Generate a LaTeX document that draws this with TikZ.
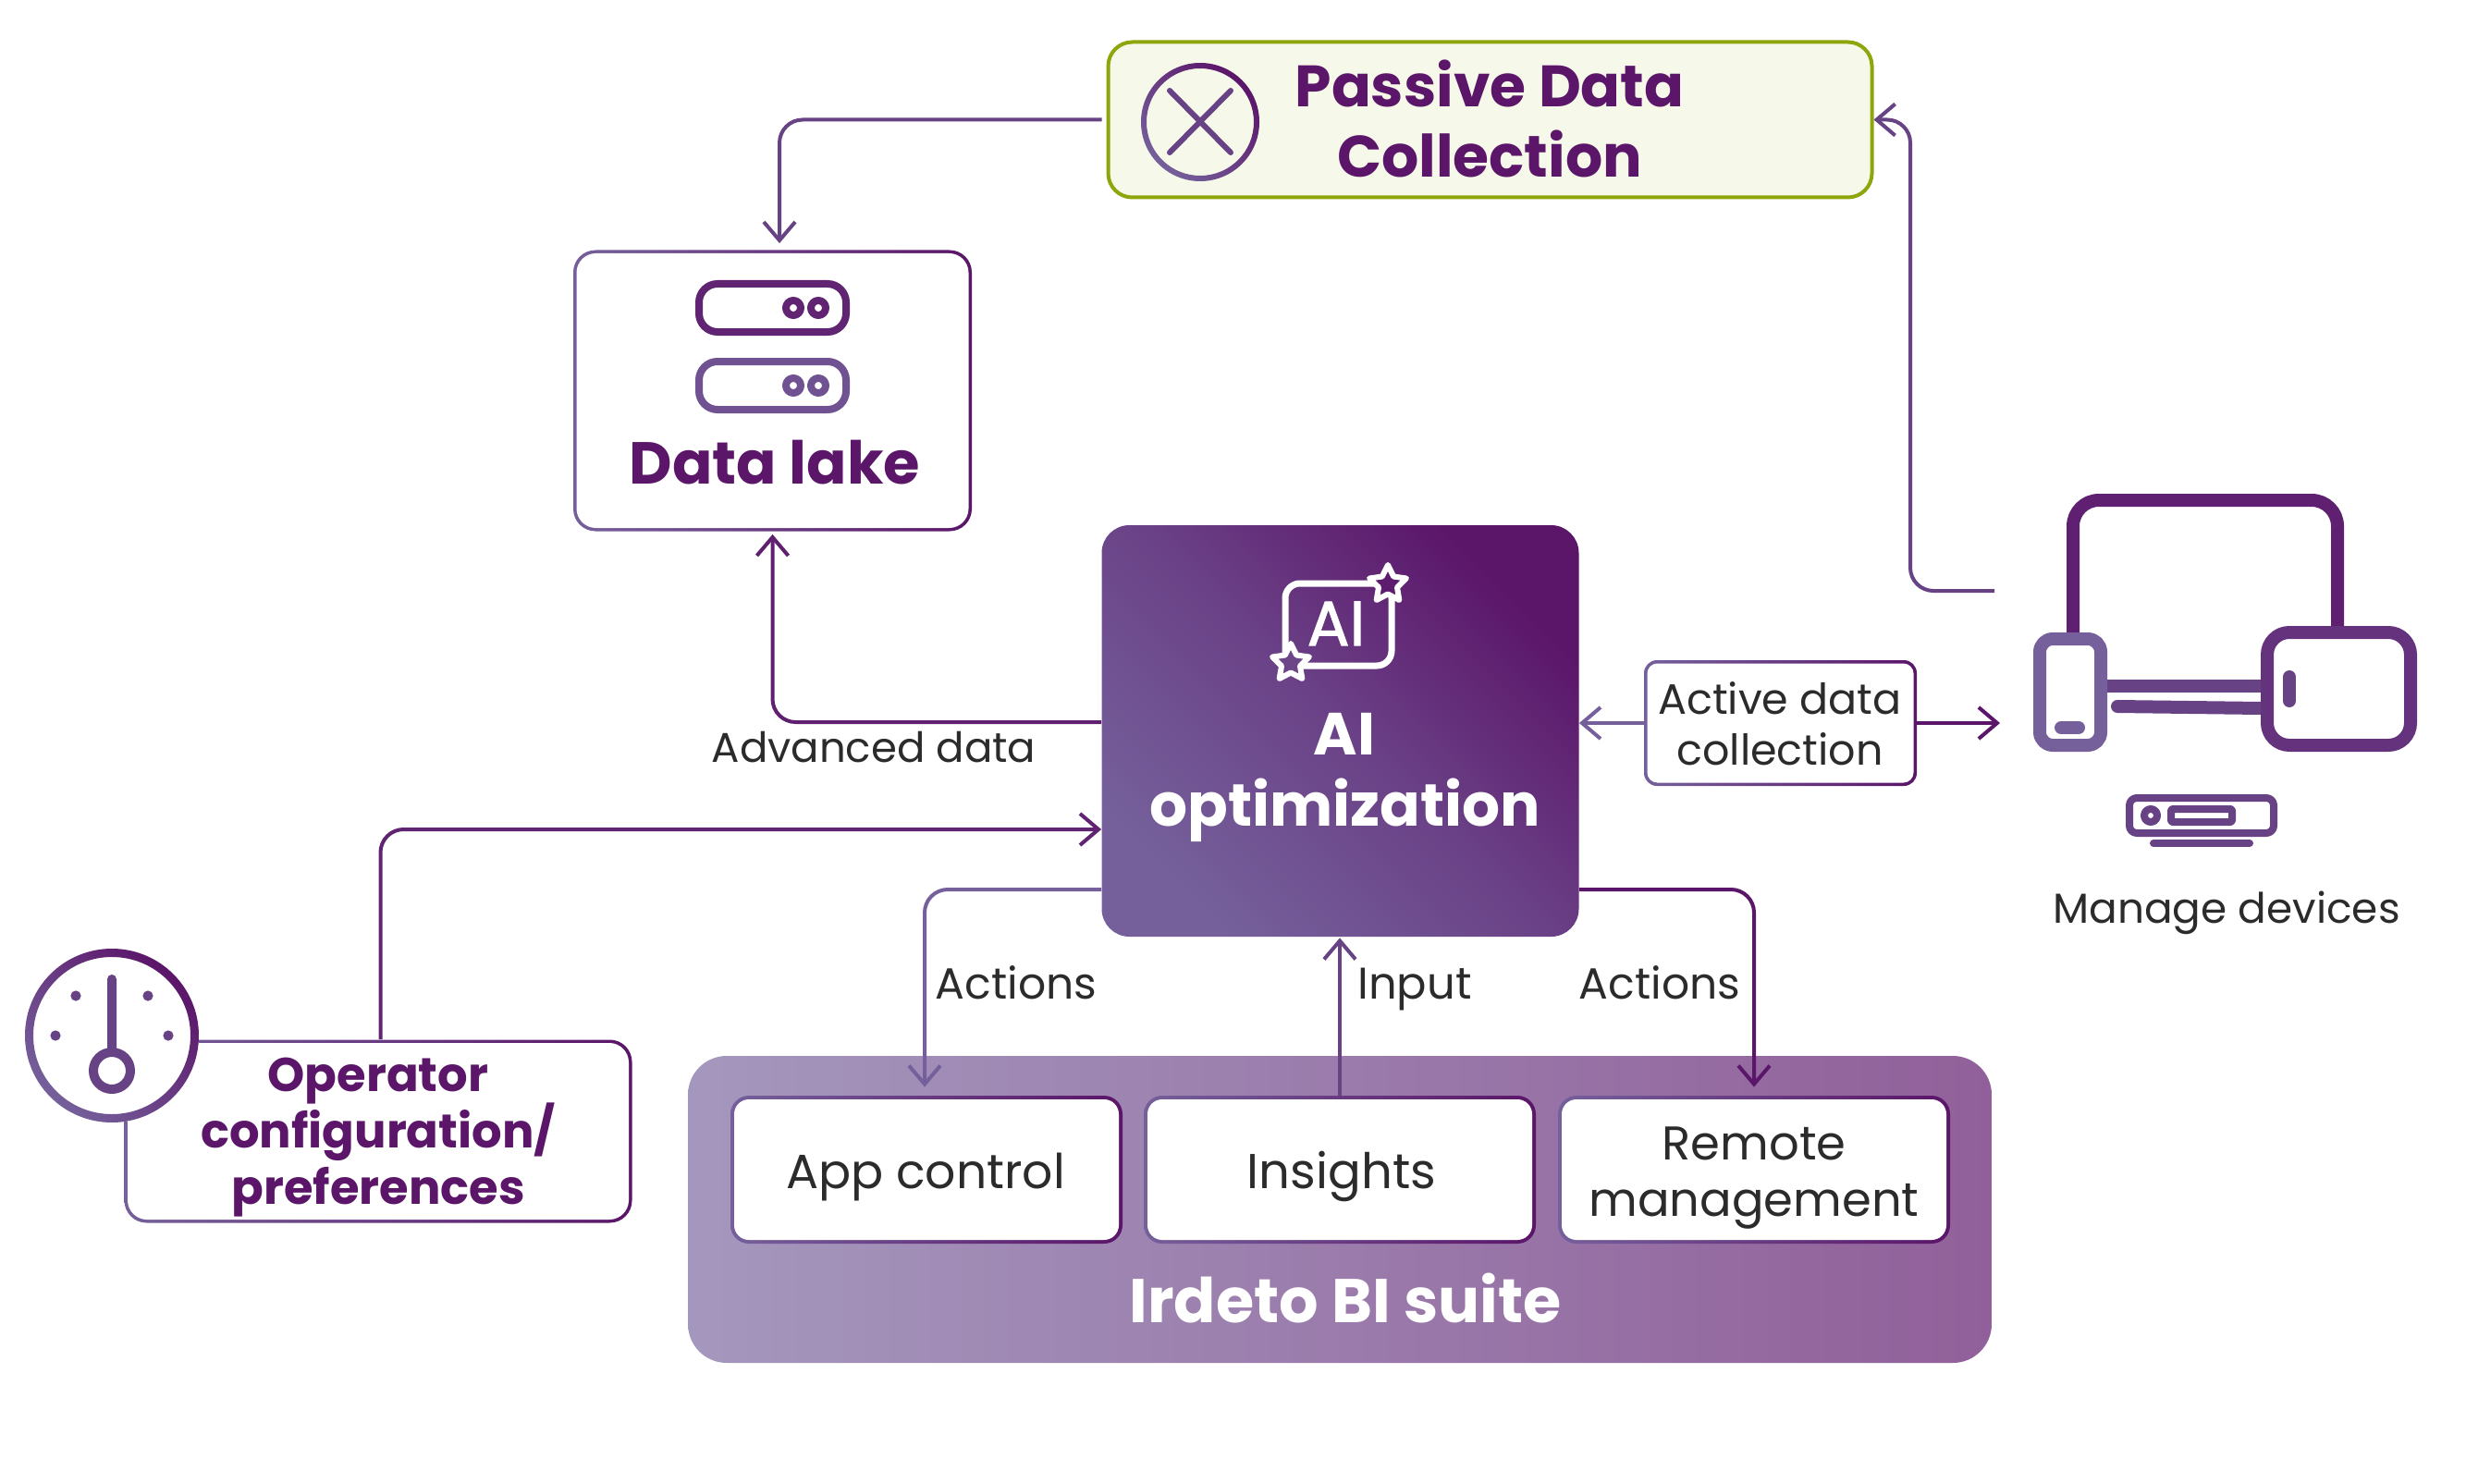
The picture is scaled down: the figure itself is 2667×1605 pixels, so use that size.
\documentclass[tikz,border=0pt]{standalone}
\usepackage{fontspec}
\setmainfont{Poppins}
\newfontfamily\iconfont[FakeBold=1.5]{Poppins}
\usetikzlibrary{arrows.meta,shapes.geometric}
\definecolor{lightp}{HTML}{75609B}
\definecolor{darkp}{HTML}{5B1569}
\definecolor{midp}{HTML}{674285}
\definecolor{suitel}{HTML}{A497BD}
\definecolor{suiter}{HTML}{91609A}
\definecolor{oline}{HTML}{8FA50C}
\definecolor{ofill}{HTML}{F6F9E9}
\definecolor{ink}{HTML}{2B2B2B}
\tikzset{
  framebox/.style={shade,left color=lightp,right color=darkp,rounded corners=#1,inner sep=0pt},
  framein/.style={fill=white,rounded corners=#1,inner sep=0pt},
  head/.style={anchor=base,align=center,font=\bfseries\fontsize{#1}{38}\selectfont,text=darkp},
  plain/.style={anchor=base,align=center,font=\fontsize{#1}{30}\selectfont,text=ink},
  link/.style={->,line width=2pt,rounded corners=12.5pt},
  icon/.style={line width=#1,line cap=round,line join=round}
}
\begin{document}
\begin{tikzpicture}[x=0.5pt,y=-0.5pt,>={Straight Barb[length=10pt,width=17pt,line width=2pt]}]
\useasboundingbox (0,0) rectangle (2667,1605);
% passive data collection
\node[draw=oline,fill=ofill,line width=2pt,rounded corners=13pt,minimum width=413pt,minimum height=84pt,inner sep=0pt] (passive) at (1611.5,129.5) {};
\shade[even odd rule,shading=axis,top color=darkp,bottom color=lightp,shading angle=-45] (1298,132) circle (32pt) (1298,132) circle (29pt);
\draw[icon=3pt,midp] (1265,98) -- (1331,165) (1331,98) -- (1265,165);
\node[head=31.6] (passivetxt) at (1611,116) {Passive Data};
\node[head=31.6] (passivetxt2) at (1611,192) {Collection};
% data lake
\node[framebox=12pt,minimum width=215.5pt,minimum height=152pt] (lake) at (835.5,422.5) {};
\node[framein=10.5pt,minimum width=212pt,minimum height=148.5pt] (lakein) at (lake) {};
\draw[icon=4pt,color=darkp!80!lightp,rounded corners=10pt] (756,307) rectangle (915,359);
\draw[icon=4pt,color=darkp!80!lightp] (858,333) circle (4pt) (885,333) circle (4pt);
\draw[icon=4pt,color=lightp!80!darkp,rounded corners=10pt] (756,391) rectangle (915,443);
\draw[icon=4pt,color=lightp!80!darkp] (858,417) circle (4pt) (885,417) circle (4pt);
\node[head=32] (laketxt) at (838,523) {Data lake};
% ai optimization
\node[shade,shading=axis,top color=darkp,bottom color=lightp,middle color=lightp!60!darkp,shading angle=-45,rounded corners=15pt,minimum width=258pt,minimum height=222.5pt,inner sep=0pt] (ai) at (1449.5,790.5) {};
\draw[icon=3.5pt,white,rounded corners=8pt] (1390,631) rectangle (1505,720);
\node[star,star points=5,star point ratio=2,draw=white,fill=darkp!90!lightp,line width=3pt,line join=round,minimum size=21pt,inner sep=0pt] (aistar) at (1501,632) {};
\node[star,star points=5,star point ratio=2,draw=white,fill=lightp!65!darkp,line width=3pt,line join=round,minimum size=21pt,inner sep=0pt] (aistar2) at (1396,717) {};
\node[anchor=base,font=\iconfont\fontsize{34}{34}\selectfont,text=white] (aiicon) at (1445,698) {AI};
\node[head=32.2,text=white] (aitxt) at (1454,816) {AI};
\node[head=32.2,text=white] (aitxt2) at (1455,893) {optimization};
% irdeto suite
\node[shade,left color=suitel,right color=suiter,rounded corners=21pt,minimum width=705pt,minimum height=166pt,inner sep=0pt] (suite) at (1449,1308) {};
\node[head=33.4,text=white] (suitetxt) at (1455,1430) {Irdeto BI suite};
\node[framebox=10pt,minimum width=212pt,minimum height=80pt] (app) at (1002,1265) {};
\node[framein=8pt,minimum width=208pt,minimum height=76pt] (appin) at (app) {};
\node[plain=26] (apptxt) at (1001,1285) {App control};
\node[framebox=10pt,minimum width=212pt,minimum height=80pt] (insights) at (1449,1265) {};
\node[framein=8pt,minimum width=208pt,minimum height=76pt] (insightsin) at (insights) {};
\node[plain=26.5] (insightstxt) at (1451,1285) {Insights};
\node[framebox=10pt,minimum width=212pt,minimum height=80pt] (remote) at (1897,1265) {};
\node[framein=8pt,minimum width=208pt,minimum height=76pt] (remotein) at (remote) {};
\node[plain=25.6] (remotetxt) at (1897,1254) {Remote};
\node[plain=25.6] (remotetxt2) at (1897,1315) {management};
% active data
\node[framebox=7pt,minimum width=147.5pt,minimum height=68pt] (active) at (1925.5,782) {};
\node[framein=5.5pt,minimum width=144pt,minimum height=64.5pt] (activein) at (active) {};
\node[plain=23] (activetxt) at (1925,772) {Active data};
\node[plain=23] (activetxt2) at (1925,827) {collection};
% operator
\node[framebox=12pt,minimum width=274.5pt,minimum height=99pt] (op) at (409,1223.5) {};
\node[framein=10.5pt,minimum width=271pt,minimum height=95.5pt] (opin) at (op) {};
\node[head=25.6] (optxt) at (409,1180) {Operator};
\node[head=25.6] (optxt2) at (409,1241) {configuration/};
\node[head=25.6] (optxt3) at (409,1302) {preferences};
% gauge
\fill[white] (121,1120) circle (47pt);
\shade[even odd rule,shading=axis,top color=darkp,bottom color=lightp,shading angle=-45] (121,1120) circle (47pt) (121,1120) circle (42.5pt);
\draw[icon=5pt,midp] (121,1059) -- (121,1135) (121,1158) circle (10pt);
\foreach \dx/\dy in {82/1077,160/1077,60/1120,182/1120} \fill[midp] (\dx,\dy) circle (2.8pt);
% devices
\draw[icon=7pt,color=darkp!85!lightp,rounded corners=14pt] (2242,688) -- (2242,541) -- (2528,541) -- (2528,680);
\draw[icon=7pt,color=midp,line cap=butt] (2278,742) -- (2445,742);
\draw[icon=7pt,color=midp] (2290,764) -- (2445,766);
\draw[icon=7pt,color=lightp,rounded corners=7pt] (2206,691) rectangle (2272,806);
\draw[icon=7pt,color=lightp] (2229,787) -- (2248,787);
\draw[icon=7pt,color=darkp!60!lightp,rounded corners=12pt] (2452,684) rectangle (2607,806);
\draw[icon=7pt,color=midp] (2476,732) -- (2476,758);
\draw[icon=4pt,color=midp,rounded corners=4pt] (2303,863) rectangle (2459,901);
\draw[icon=4pt,color=midp] (2326,882) circle (3.5pt);
\draw[icon=4pt,color=midp,rounded corners=1pt] (2348,875) rectangle (2414,889);
\draw[icon=4pt,color=midp] (2329,912) -- (2433,912);
\node[plain=22.7] (devicestxt) at (2408,998) {Manage devices};
\coordinate (devup) at (2157,639);
\coordinate (devright) at (2163,782);
% labels
\node[plain=22.5] (advtxt) at (945,824) {Advanced data};
\node[plain=23.6] (act1txt) at (1099,1080) {Actions};
\node[plain=24] (inputtxt) at (1530,1080) {Input};
\node[plain=23.6] (act2txt) at (1795,1080) {Actions};
% connectors
\draw[link,midp,shorten <=2.5pt,shorten >=3.5pt] (passive.west) -| ([xshift=3.75pt]lake.north);
\draw[link,midp] (devup) -- ++(-91,0) |- (passive.east);
\draw[link,darkp!85!lightp,shorten >=1.5pt] ([yshift=4.75pt]ai.west) -| (lake.south);
\draw[link,darkp!80!lightp] ([xshift=1.25pt]op.north) |- ([yshift=-53.25pt]ai.west);
\draw[link,lightp,shorten >=4.5pt] ([yshift=-85.75pt]ai.west) -| ([xshift=-1pt]app.north);
\draw[link,midp,shorten >=0.5pt] (insights.north) -- (insights.north |- ai.south);
\draw[link,darkp,shorten >=4.5pt] ([yshift=-85.75pt]ai.east) -| (remote.north);
\draw[link,lightp] (active.west) -- (active.west -| ai.east);
\draw[link,darkp] (active.east) -- (devright);
\end{tikzpicture}
\end{document}
